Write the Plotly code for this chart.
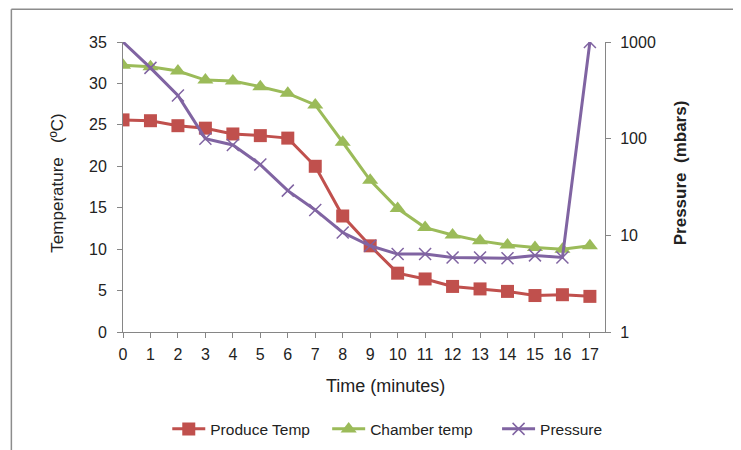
import plotly.graph_objects as go

minutes = list(range(18))
produce_temp = [25.6, 25.5, 24.9, 24.6, 23.9, 23.7, 23.4, 20.0, 14.0, 10.4, 7.1, 6.4, 5.5, 5.2, 4.9, 4.4, 4.5, 4.3]
chamber_temp = [32.2, 32.0, 31.5, 30.4, 30.3, 29.6, 28.8, 27.4, 22.9, 18.3, 14.9, 12.6, 11.7, 11.0, 10.5, 10.2, 10.0, 10.4]
pressure = [1000, 540, 280, 100, 86, 54, 29, 18.3, 10.7, 7.8, 6.4, 6.4, 5.9, 5.9, 5.8, 6.2, 5.9, 1000]
x_ticks = list(range(18))
temp_ticks = [0, 5, 10, 15, 20, 25, 30, 35]
pressure_ticks = [1, 10, 100, 1000]

RED = "#C0504D"
GREEN = "#9BBB59"
PURPLE = "#8064A2"
AXIS = "#868686"
FONT = "Liberation Sans"

OFF = 8  # default page body margin
W, H = 741 - OFF, 450 - OFF
# plot area in screen pixels
X0, X1, Y0, Y1 = 122.7, 605, 41.7, 331.7
L, R, T, B = X0 - OFF, W - (X1 - OFF), Y0 - OFF, H - (Y1 - OFF)
pw, ph = X1 - X0, Y1 - Y0

def px(x):
    return (x - X0) / pw

def py(y):
    return (Y1 - y) / ph

fig = go.Figure()
fig.add_trace(go.Scatter(
    x=minutes, y=produce_temp, name="Produce Temp", mode="lines+markers", legend="legend",
    line=dict(color=RED, width=3),
    marker=dict(symbol="square", size=13, color=RED, line=dict(width=0)),
))
fig.add_trace(go.Scatter(
    x=minutes, y=chamber_temp, name="Chamber temp", mode="lines+markers", legend="legend2",
    line=dict(color=GREEN, width=3),
    marker=dict(symbol="triangle-up", size=14, color=GREEN, line=dict(width=0)),
))
fig.add_trace(go.Scatter(
    x=minutes, y=pressure, name="Pressure", mode="lines+markers", yaxis="y2", legend="legend3",
    line=dict(color=PURPLE, width=3),
    marker=dict(symbol="x-thin", size=12, color=PURPLE, line=dict(width=1.5, color=PURPLE)),
))

axis_common = dict(showgrid=False, zeroline=False, showline=True, linecolor=AXIS, linewidth=1,
                   ticks="outside", tickcolor=AXIS, ticklen=5,
                   tickfont=dict(family=FONT, size=16, color="#222"))

def legend_at(xpix):
    return dict(orientation="h", x=px(xpix), y=py(429), xanchor="left", yanchor="middle",
                font=dict(family=FONT, size=15.5, color="#222"), bgcolor="rgba(0,0,0,0)",
                itemwidth=33)

fig.update_layout(
    width=W, height=H,
    margin=dict(l=L, r=R, t=T, b=B, pad=0, autoexpand=False),
    paper_bgcolor="white", plot_bgcolor="white",
    font=dict(family=FONT, color="#222"),
    showlegend=True,
    xaxis=dict(range=[0, 17.55], tickvals=x_ticks, ticktext=[str(v) for v in x_ticks],
               ticklabelstandoff=3, **axis_common),
    yaxis=dict(range=[0, 35], tickvals=temp_ticks, ticklabelstandoff=7, **axis_common),
    yaxis2=dict(overlaying="y", side="right", type="log", range=[0, 3], tickvals=pressure_ticks,
                ticktext=[str(v) for v in pressure_ticks], anchor="x", ticklabelstandoff=6,
                **axis_common),
    legend=legend_at(167),
    legend2=legend_at(327),
    legend3=legend_at(497),
    annotations=[
        dict(text="Time (minutes)", x=px(385), y=py(386), xref="paper", yref="paper",
             showarrow=False, xanchor="center", yanchor="middle",
             font=dict(family=FONT, size=18, color="#222")),
        dict(text="Temperature\u00a0\u00a0\u00a0(ºC)", x=px(57), y=py(183), xref="paper", yref="paper",
             showarrow=False, textangle=-90, xanchor="center", yanchor="middle",
             font=dict(family=FONT, size=17, color="#222")),
        dict(text="<b>Pressure\u00a0\u00a0(mbars)</b>", x=px(680), y=py(172), xref="paper", yref="paper",
             showarrow=False, textangle=-90, xanchor="center", yanchor="middle",
             font=dict(family=FONT, size=17, color="#222")),
    ],
    shapes=[
        dict(type="line", xref="paper", yref="paper", x0=px(11), x1=px(760), y0=py(9), y1=py(9),
             line=dict(color="#8C8C8C", width=1.5)),
        dict(type="line", xref="paper", yref="paper", x0=px(11), x1=px(11), y0=py(9), y1=py(470),
             line=dict(color="#8C8C8C", width=1.5)),
    ],
)

fig.write_html("out.html")
